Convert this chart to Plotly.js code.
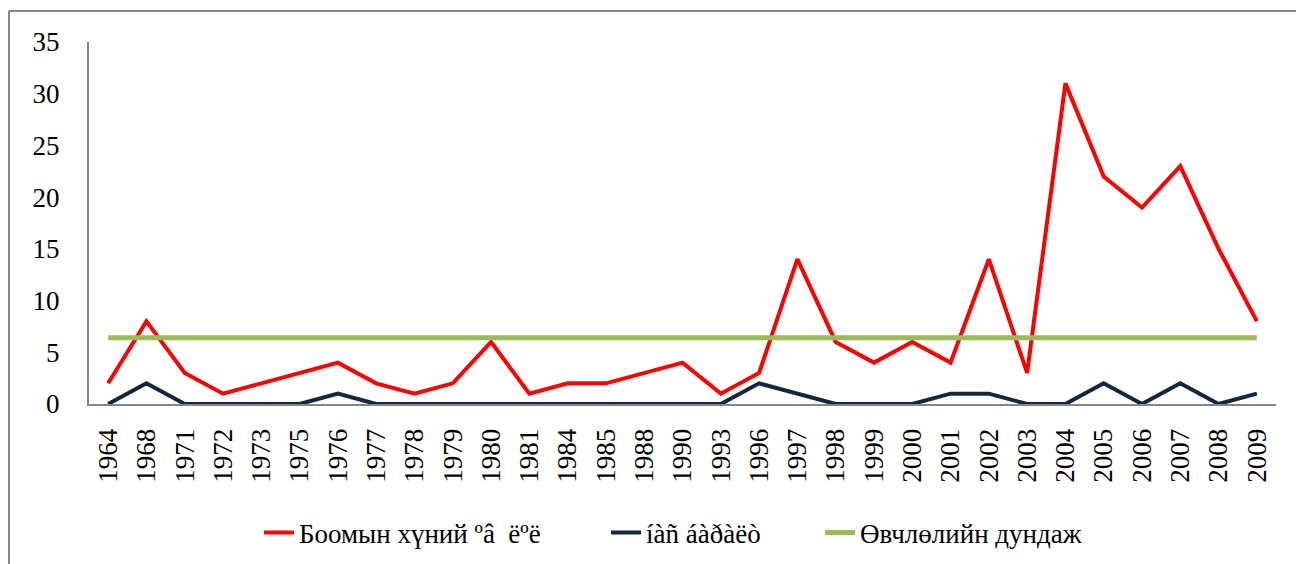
<!DOCTYPE html>
<html>
<head>
<meta charset="utf-8">
<script src="https://cdn.plot.ly/plotly-3.0.1.min.js"></script>
<style>
html,body{margin:0;padding:0;background:#fff;}
#chart{width:1296px;height:564px;}
</style>
</head>
<body>
<div id="chart"></div>
<script>
const years = ["1964","1968","1971","1972","1973","1975","1976","1977","1978","1979","1980","1981","1984","1985","1988","1990","1993","1996","1997","1998","1999","2000","2001","2002","2003","2004","2005","2006","2007","2008","2009"];
const cases = [2,8,3,1,2,3,4,2,1,2,6,1,2,2,3,4,1,3,14,6,4,6,4,14,3,31,22,19,23,15,8];
const deaths = [0,2,0,0,0,0,1,0,0,0,0,0,0,0,0,0,0,2,1,0,0,0,1,1,0,0,2,0,2,0,1];
const average = [6.4,6.4,6.4,6.4,6.4,6.4,6.4,6.4,6.4,6.4,6.4,6.4,6.4,6.4,6.4,6.4,6.4,6.4,6.4,6.4,6.4,6.4,6.4,6.4,6.4,6.4,6.4,6.4,6.4,6.4,6.4];
const names = ["Боомын хүний ºâ \u00a0ëºë", "íàñ áàðàëò", "Өвчлөлийн дундаж"];

const font = "Liberation Serif";
const traces = [
  {x: years, y: cases, name: names[0], type: "scatter", mode: "lines", line: {color: "#FF0000", width: 4}, legend: "legend"},
  {x: years, y: deaths, name: names[1], type: "scatter", mode: "lines", line: {color: "#14273F", width: 4}, legend: "legend2"},
  {x: years, y: average, name: names[2], type: "scatter", mode: "lines", line: {color: "#9BBB59", width: 5}, legend: "legend3"}
];
function px(p){ return (p - 89) / 1187; }
const legFont = {family: font, size: 27, color: "#000"};
function leg(p){ return {orientation: "h", x: px(p), xanchor: "left", y: -0.356, yanchor: "middle", font: legFont, itemwidth: 30, bgcolor: "rgba(0,0,0,0)"}; }
const layout = {
  width: 1296, height: 564,
  margin: {l: 89, r: 20, t: 42, b: 160, autoexpand: false},
  paper_bgcolor: "#fff", plot_bgcolor: "#fff",
  showlegend: true,
  font: {family: font, size: 27, color: "#000"},
  xaxis: {type: "category", range: [-0.5, 30.5], tickangle: -90, showgrid: false, zeroline: false,
    showline: true, linecolor: "#868686", linewidth: 2, ticks: "", ticklabelstandoff: 12, automargin: false,
    tickfont: {family: font, size: 27, color: "#000"}, fixedrange: true},
  yaxis: {range: [0, 35], dtick: 5, showgrid: false, zeroline: false, automargin: false,
    showline: true, linecolor: "#868686", linewidth: 2, ticks: "", ticklabelstandoff: 22,
    tickfont: {family: font, size: 27, color: "#000"}, fixedrange: true},
  legend: leg(259),
  legend2: leg(606),
  legend3: leg(820),
  shapes: [
    {type: "line", xref: "paper", yref: "paper", x0: -0.0674, x1: -0.0674, y0: -0.5, y1: 1.0856, line: {color: "#868686", width: 2}},
    {type: "line", xref: "paper", yref: "paper", x0: -0.0674, x1: 1.05, y0: 1.0856, y1: 1.0856, line: {color: "#868686", width: 2}}
  ]
};
Plotly.newPlot("chart", traces, layout, {displayModeBar: false, staticPlot: true});
</script>
</body>
</html>
